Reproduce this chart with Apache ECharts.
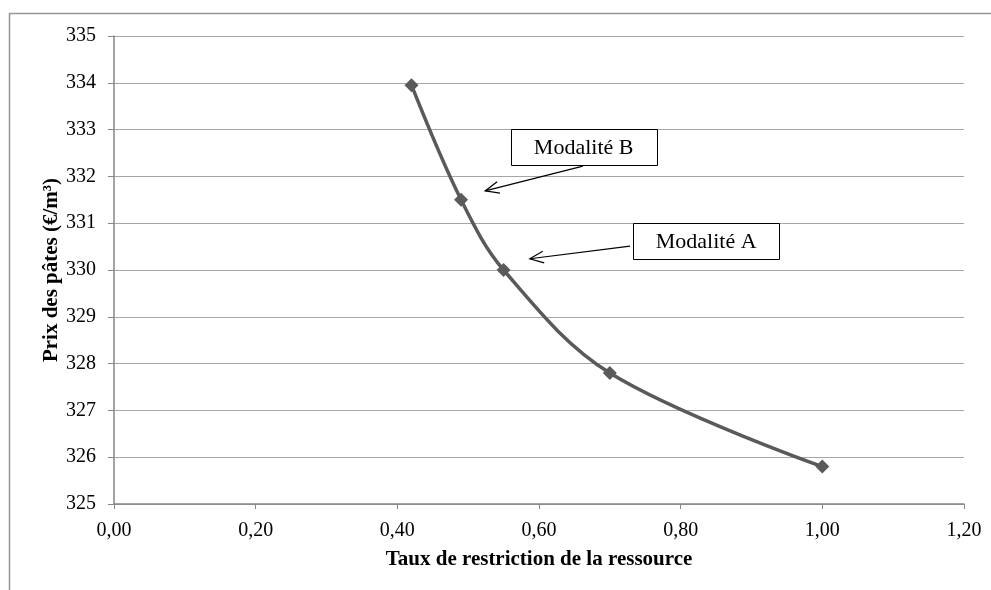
<!DOCTYPE html>
<html><head><meta charset="utf-8">
<script src="https://cdn.jsdelivr.net/npm/echarts@6/dist/echarts.min.js"></script>
<style>html,body{margin:0;padding:0;background:#fff}#c{width:991px;height:590px}</style>
</head><body><div id="c"></div>
<script>
const xValues = [0.42, 0.49, 0.55, 0.70, 1.00];
const yValues = [333.95, 331.5, 330.0, 327.8, 325.8];
const xTitle = 'Taux de restriction de la ressource';
const yTitle = 'Prix des pâtes (€/m³)';
const annotLabels = ['Modalité B', 'Modalité A'];
// annotation anchors in data coordinates: box center, arrow start, arrow end
const annotBoxCenter = [[0.663, 332.62], [0.836, 330.62]];
const annotArrowFrom = [[0.662, 332.22], [0.7285, 330.51]];
const annotArrowTo = [[0.524, 331.69], [0.587, 330.24]];

const font = '"Liberation Serif", "Times New Roman", serif';
const chart = echarts.init(document.getElementById('c'), null, {renderer: 'canvas'});
const data = xValues.map((x, i) => [x, yValues[i]]);
chart.setOption({
  animation: false,
  backgroundColor: '#fff',
  grid: {left: 114, right: 27, top: 36, bottom: 86, containLabel: false},
  xAxis: {
    type: 'value', min: 0, max: 1.2, interval: 0.2,
    name: xTitle, nameLocation: 'middle', nameGap: 45, nameMoveOverlap: false,
    nameTextStyle: {fontFamily: font, fontSize: 21, fontWeight: 'bold', color: '#000'},
    axisLine: {lineStyle: {color: '#868686', width: 1.5}},
    axisTick: {show: true, length: 5, lineStyle: {color: '#868686'}},
    axisLabel: {fontFamily: font, fontSize: 20, color: '#000', margin: 17,
      formatter: v => v.toFixed(2).replace('.', ',')},
    splitLine: {show: false}
  },
  yAxis: {
    type: 'value', min: 325, max: 335, interval: 1,
    name: yTitle, nameLocation: 'middle', nameGap: 52, nameRotate: 90, nameMoveOverlap: false,
    nameTextStyle: {fontFamily: font, fontSize: 21, fontWeight: 'bold', color: '#000'},
    axisLine: {show: true, lineStyle: {color: '#868686', width: 1.5}},
    axisTick: {show: true, length: 6, lineStyle: {color: '#868686'}},
    axisLabel: {fontFamily: font, fontSize: 20, color: '#000', margin: 18},
    splitLine: {show: true, lineStyle: {color: '#a6a6a6', width: 1}}
  },
  series: [{
    type: 'line', data: data, smooth: 0.35,
    symbol: 'diamond', symbolSize: 14,
    lineStyle: {color: '#5a5a5a', width: 3.5},
    itemStyle: {color: '#5a5a5a'}
  }]
});

function px(p) { return chart.convertToPixel({gridIndex: 0}, p); }
const g = [{
  type: 'rect', shape: {x: 9.5, y: 13.5, width: 1200, height: 1000},
  style: {fill: 'none', stroke: '#969696', lineWidth: 1.5}, z: -10, silent: true
}];
annotLabels.forEach((lab, i) => {
  const c = px(annotBoxCenter[i]);
  const a = px(annotArrowFrom[i]);
  const b = px(annotArrowTo[i]);
  const w = 146, h = 36;
  g.push({type: 'rect', shape: {x: Math.round(c[0] - w / 2) + 0.5, y: Math.round(c[1] - h / 2) + 0.5, width: w, height: h},
    style: {fill: '#fff', stroke: '#000', lineWidth: 1}, z: 100});
  g.push({type: 'text', x: c[0], y: c[1] + 1, style: {text: lab, font: '22px ' + font, fill: '#000', align: 'center', verticalAlign: 'middle'}, z: 101});
  const ang = Math.atan2(b[1] - a[1], b[0] - a[0]);
  const L = 15, sp = 0.4;
  const p1 = [b[0] - L * Math.cos(ang - sp), b[1] - L * Math.sin(ang - sp)];
  const p2 = [b[0] - L * Math.cos(ang + sp), b[1] - L * Math.sin(ang + sp)];
  g.push({type: 'line', shape: {x1: a[0], y1: a[1], x2: b[0], y2: b[1]}, style: {stroke: '#000', lineWidth: 1.2}, z: 100});
  g.push({type: 'polyline', shape: {points: [p1, b, p2]}, style: {stroke: '#000', lineWidth: 1.2, fill: 'none'}, z: 100});
});
chart.setOption({graphic: g});
</script></body></html>
